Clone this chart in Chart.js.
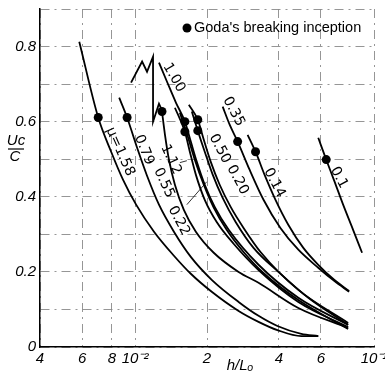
<!DOCTYPE html>
<html lang="en">
<head>
<meta charset="UTF-8">
<title>Crest velocity against relative depth</title>
<script src="https://cdn.jsdelivr.net/npm/chart.js"></script>
<style>
    body { margin: 0; background: #fff; }
    #chart { display: block; }
</style>
</head>
<body>
<canvas id="chart" width="385" height="375"></canvas>
<script>
    // [h/Lo, Uc/C] for each beach slope parameter mu
    const mu158 = [[0.00584, 0.813], [0.00701, 0.611], [0.00794, 0.520], [0.00891, 0.445], [0.0101, 0.379], [0.0120, 0.307], [0.01454, 0.243], [0.01711, 0.195], [0.02093, 0.147], [0.02712, 0.096], [0.03286, 0.067], [0.03942, 0.045], [0.04963, 0.029], [0.05843, 0.029]];
    const mu079 = [[0.00858, 0.664], [0.00926, 0.611], [0.01019, 0.531], [0.01122, 0.456], [0.01259, 0.379], [0.01454, 0.307], [0.01711, 0.240], [0.02093, 0.179], [0.02712, 0.120], [0.03286, 0.083], [0.03942, 0.056], [0.04963, 0.035], [0.05843, 0.029]];
    const mu112 = [[0.01296, 0.627], [0.01334, 0.565], [0.01386, 0.499], [0.01468, 0.432], [0.0160, 0.365], [0.01796, 0.307], [0.02134, 0.251], [0.02712, 0.200], [0.03286, 0.171], [0.04823, 0.104], [0.07792, 0.051]];
    const mu100 = [[0.01259, 0.757], [0.01359, 0.707], [0.01482, 0.651], [0.01616, 0.600], [0.01711, 0.547], [0.01813, 0.493], [0.01957, 0.432], [0.02154, 0.373], [0.02465, 0.312], [0.03286, 0.219], [0.04823, 0.131], [0.07792, 0.059]];
    const mu055 = [[0.01468, 0.637], [0.01616, 0.573], [0.01695, 0.520], [0.01796, 0.459], [0.01957, 0.392], [0.02196, 0.333], [0.02585, 0.275], [0.03286, 0.205], [0.04823, 0.120], [0.07792, 0.053]];
    const mu022 = [[0.0154, 0.624], [0.01663, 0.560], [0.01778, 0.499], [0.01939, 0.432], [0.02134, 0.371], [0.02417, 0.312], [0.02845, 0.253], [0.03448, 0.197], [0.04823, 0.125], [0.07792, 0.048]];
    const mu050 = [[0.01679, 0.645], [0.0183, 0.605], [0.01939, 0.552], [0.02074, 0.493], [0.0226, 0.432], [0.02512, 0.373], [0.02845, 0.317], [0.0335, 0.253], [0.04823, 0.152], [0.07792, 0.064]];
    const mu020 = [[0.01728, 0.627], [0.0183, 0.576], [0.01957, 0.520], [0.02113, 0.459], [0.02326, 0.397], [0.02636, 0.333], [0.03132, 0.264], [0.03981, 0.200], [0.05309, 0.131], [0.07792, 0.059]];
    const mu035 = [[0.02326, 0.640], [0.02488, 0.592], [0.02687, 0.547], [0.03015, 0.472], [0.03448, 0.392], [0.04058, 0.317], [0.04823, 0.259], [0.05843, 0.211], [0.06813, 0.176], [0.07867, 0.147]];
    const mu014 = [[0.02958, 0.565], [0.03193, 0.520], [0.03481, 0.459], [0.0387, 0.392], [0.04383, 0.325], [0.05061, 0.264], [0.05843, 0.219], [0.06813, 0.179], [0.07867, 0.149]];
    const mu010 = [[0.05843, 0.557], [0.0631, 0.499], [0.06813, 0.443], [0.07426, 0.379], [0.08175, 0.312], [0.08913, 0.251]];

    const curves = [mu158, mu079, mu112, mu100, mu055, mu022, mu050, mu020, mu035, mu014, mu010];

    // Goda's breaking inception
    const godaX = [0.00701, 0.00926, 0.01296, 0.01616, 0.01616, 0.0183, 0.0183, 0.02687, 0.03193, 0.0631];
    const godaY = [0.611, 0.611, 0.627, 0.600, 0.573, 0.605, 0.576, 0.547, 0.520, 0.499];

    // hand-drawn zig-zag above the bundle, and label leader strokes
    const zigzag = [[0.00962, 0.704], [0.0107, 0.760], [0.01122, 0.733], [0.01189, 0.773], [0.01189, 0.600], [0.01259, 0.648], [0.01309, 0.624]];
    const leader022 = [[0.01647, 0.379], [0.01995, 0.440]];
    const leader112 = [[0.0154, 0.491], [0.01647, 0.496]];

    const xTicks = [0.004, 0.006, 0.008, 0.01, 0.02, 0.04, 0.06, 0.1];
    const xTickLabels = ['4', '6', '8', '10⁻²', '2', '4', '6', '10⁻¹'];
    const yTicks = [0, 0.1, 0.2, 0.3, 0.4, 0.5, 0.6, 0.7, 0.8, 0.9];
    const yTickLabels = ['0', '', '0.2', '', '0.4', '', '0.6', '', '0.8', ''];

    // curve labels: text, position (h/Lo, Uc/C), rotation in degrees
    const labelText = ['\u03BC=1.58', '0.79', '1.12', '0.55', '0.22', '1.00', '0.50', '0.20', '0.35', '0.14', '0.1'];
    const labelX = [0.00866, 0.0109, 0.01413, 0.01321, 0.01525, 0.01454, 0.0226, 0.02687, 0.02585, 0.03831, 0.07135];
    const labelY = [0.520, 0.525, 0.499, 0.437, 0.336, 0.717, 0.528, 0.445, 0.627, 0.437, 0.451];
    const labelAngle = [66, 68, 65, 65, 62, 60, 62, 62, 62, 62, 62];

    const toPts = arr => arr.map(p => ({x: p[0], y: p[1]}));

    const datasets = curves.map(c => ({
        data: toPts(c),
        showLine: true,
        borderColor: '#000',
        borderWidth: 1.8,
        pointRadius: 0,
        cubicInterpolationMode: 'monotone'
    }));
    [zigzag, leader022, leader112].forEach((c, i) => datasets.push({
        data: toPts(c),
        showLine: true,
        borderColor: '#000',
        borderWidth: i === 0 ? 1.8 : 0.8,
        pointRadius: 0,
        tension: 0
    }));
    datasets.push({
        data: godaX.map((x, i) => ({x: x, y: godaY[i]})),
        showLine: false,
        pointRadius: 4.5,
        pointBackgroundColor: '#000',
        pointBorderWidth: 0
    });

    const tickFont = {family: 'Liberation Sans', size: 15, style: 'italic'};

    const annotations = {
        id: 'annotations',
        afterDatasetsDraw(chart) {
            const ctx = chart.ctx;
            const xs = chart.scales.x, ys = chart.scales.y;
            ctx.save();
            ctx.fillStyle = '#000';
            ctx.font = '14px "DejaVu Sans"';
            ctx.textAlign = 'center';
            ctx.textBaseline = 'middle';
            labelText.forEach((t, i) => {
                ctx.save();
                ctx.translate(xs.getPixelForValue(labelX[i]), ys.getPixelForValue(labelY[i]));
                ctx.rotate(labelAngle[i] * Math.PI / 180);
                ctx.fillText(t, 0, 0);
                ctx.restore();
            });

            // legend entry
            ctx.beginPath();
            ctx.arc(187, 28, 4.5, 0, Math.PI * 2);
            ctx.fill();
            ctx.font = '14.5px "Liberation Sans"';
            ctx.textAlign = 'left';
            ctx.fillText("Goda's breaking inception", 194, 28);

            // axis titles
            ctx.font = 'italic 15px "Liberation Sans"';
            ctx.textAlign = 'center';
            ctx.fillText('h/L\u2092', xs.getPixelForValue(0.0275), 366);
            ctx.fillText('Uc', 16, 141);
            ctx.fillText('C', 15, 157);
            ctx.lineWidth = 1.2;
            ctx.beginPath();
            ctx.moveTo(8, 149);
            ctx.lineTo(24, 149);
            ctx.stroke();
            ctx.restore();
        }
    };

    new Chart(document.getElementById('chart'), {
        type: 'scatter',
        data: {datasets: datasets},
        options: {
            responsive: false,
            animation: false,
            layout: {padding: {top: 9, right: 11, left: 0, bottom: 0}},
            plugins: {legend: {display: false}, tooltip: {enabled: false}},
            scales: {
                x: {
                    type: 'logarithmic',
                    min: 0.004,
                    max: 0.1,
                    afterBuildTicks: s => { s.ticks = xTicks.map(v => ({value: v})); },
                    afterFit: s => { s.height = 28; s.paddingLeft = 0; s.paddingRight = 0; },
                    ticks: {
                        callback: (v, i) => xTickLabels[i],
                        font: tickFont,
                        color: '#000',
                        padding: 3,
                        maxRotation: 0,
                        autoSkip: false
                    },
                    grid: {color: '#8a8a8a', lineWidth: 0.9, drawTicks: false},
                    border: {display: true, color: '#000', width: 1.5, dash: [9, 5, 2, 5]}
                },
                y: {
                    min: 0,
                    max: 0.9,
                    afterBuildTicks: s => { s.ticks = yTicks.map(v => ({value: v})); },
                    afterFit: s => { s.width = 40; s.paddingTop = 0; s.paddingBottom = 0; },
                    ticks: {
                        callback: (v, i) => yTickLabels[i],
                        font: tickFont,
                        color: '#000',
                        padding: 4,
                        autoSkip: false
                    },
                    grid: {color: '#8a8a8a', lineWidth: 0.9, drawTicks: false},
                    border: {display: true, color: '#000', width: 1.5, dash: [9, 5, 2, 5]}
                }
            }
        },
        plugins: [annotations]
    });
</script>
</body>
</html>
